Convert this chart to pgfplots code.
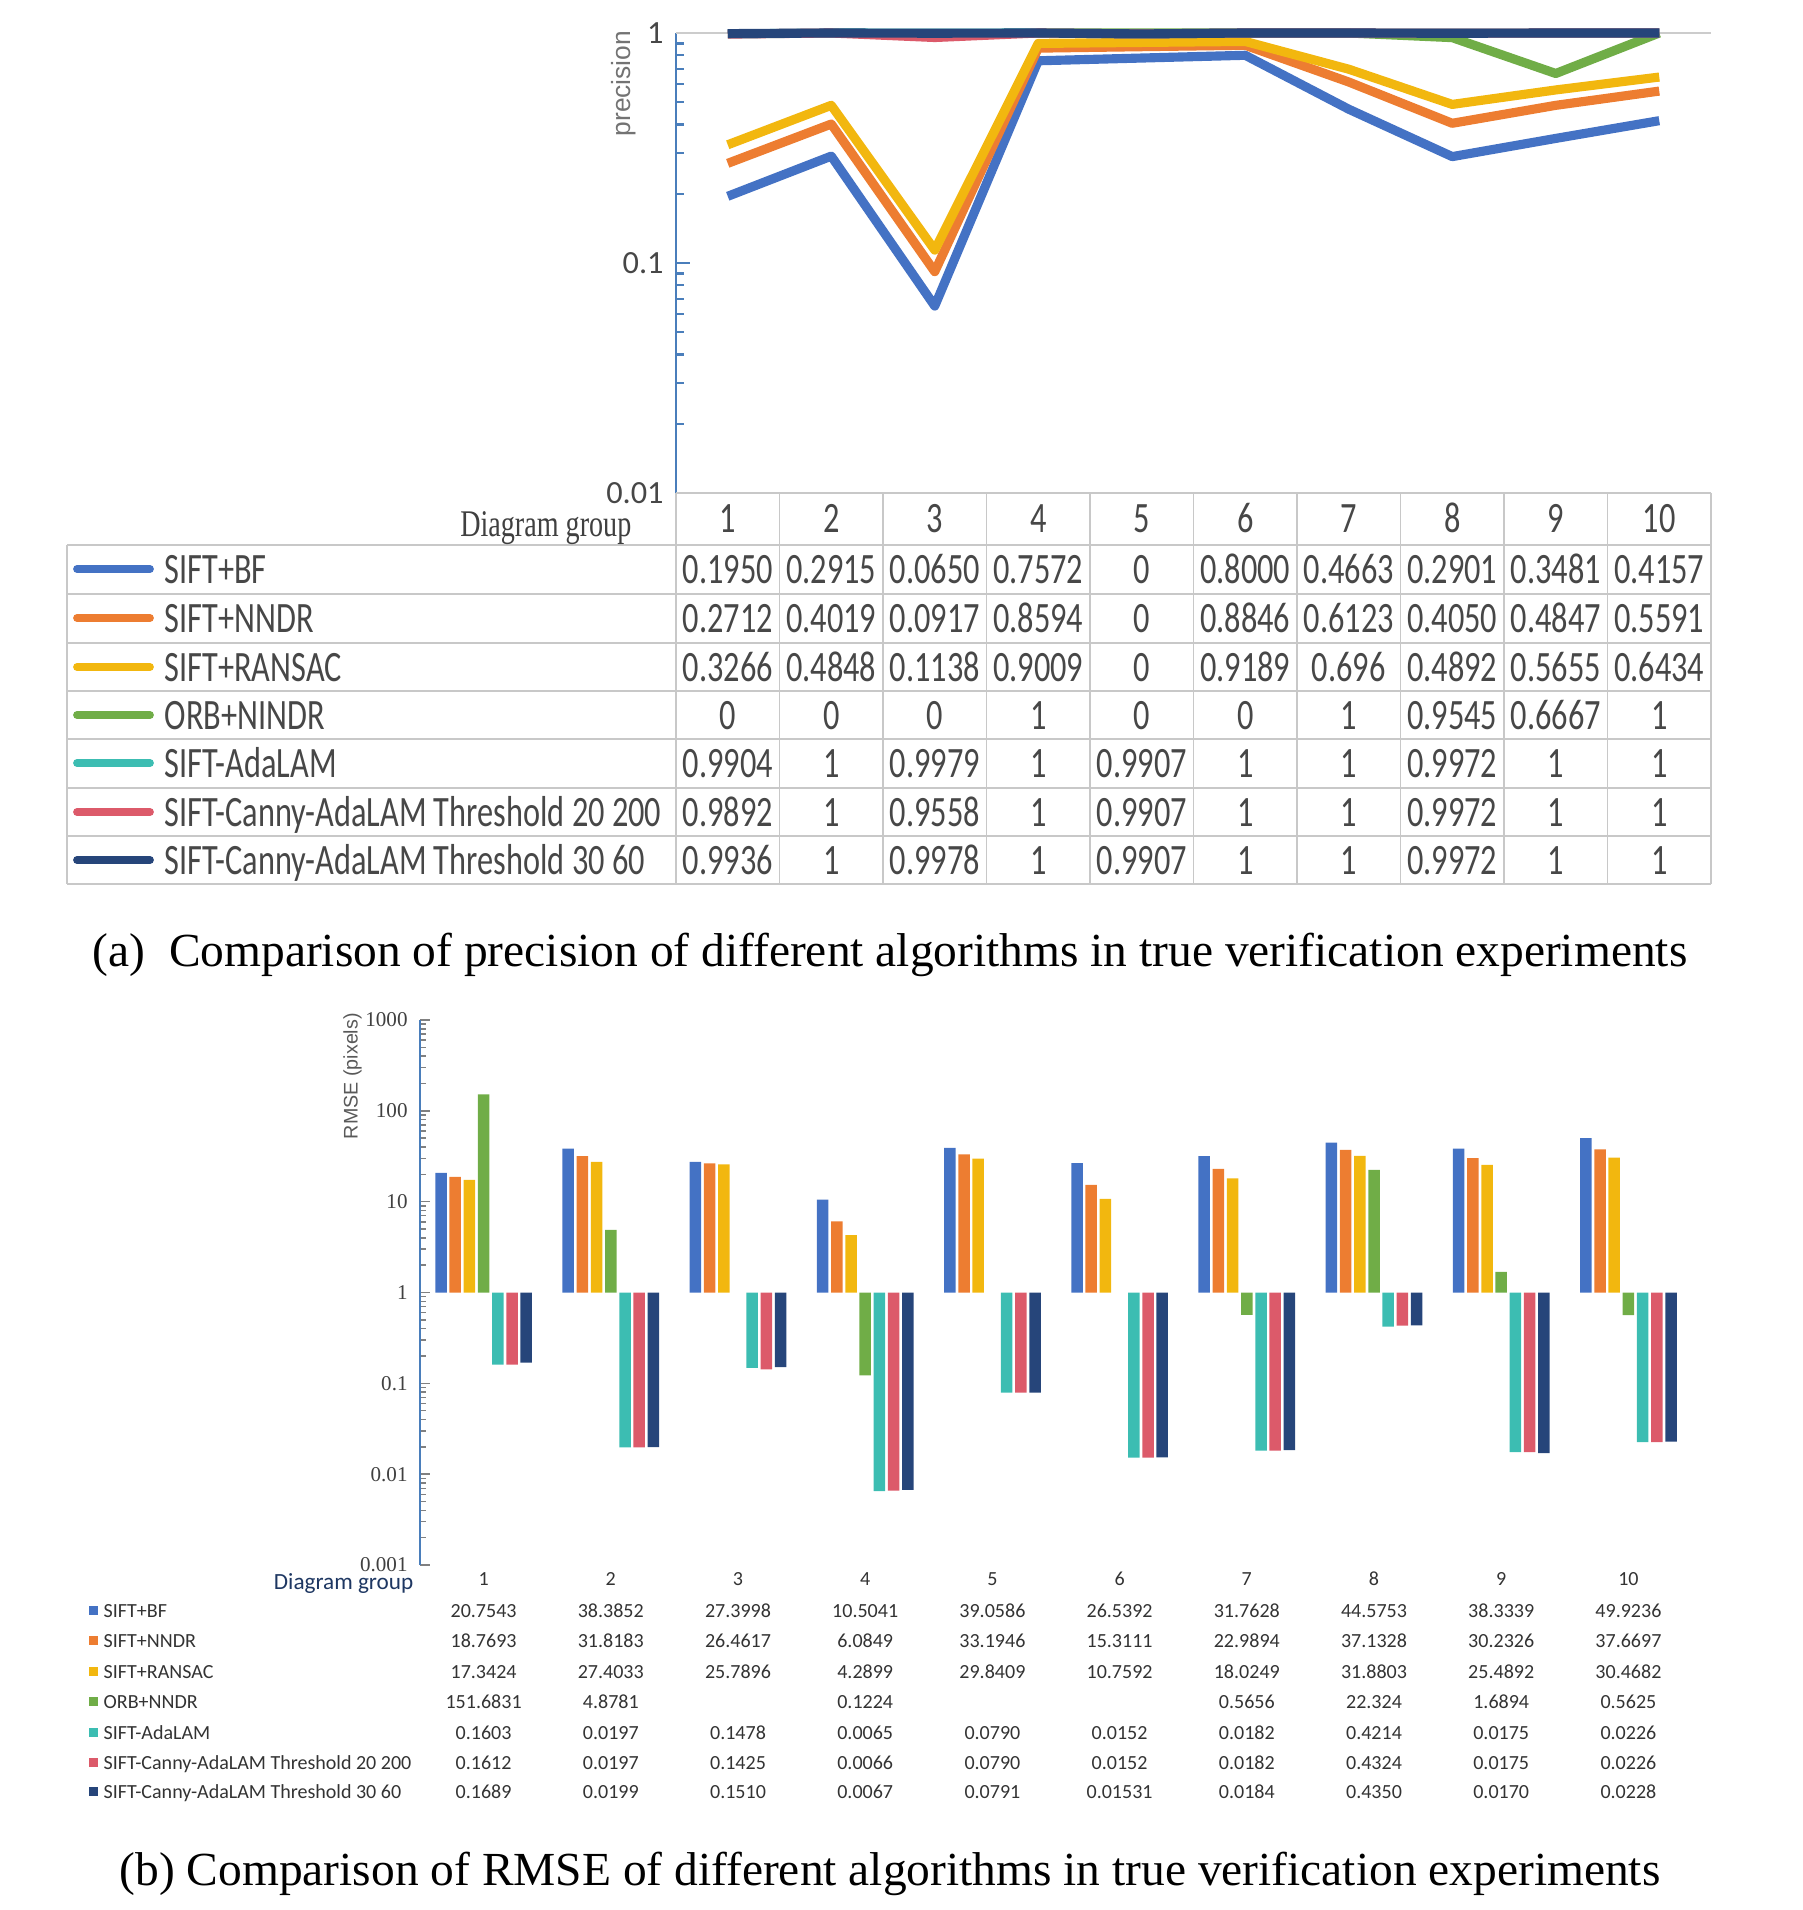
\documentclass[border=0pt]{standalone}
\usepackage{pgfplots}
\pgfplotsset{compat=1.18}
\usepackage{graphicx}
\usepackage{fontspec}
\setmainfont{Liberation Serif}
\setsansfont{Carlito}
\newfontfamily\arialf{Liberation Sans}

\definecolor{cBF}{HTML}{4472C4}
\definecolor{cNN}{HTML}{ED7D31}
\definecolor{cRA}{HTML}{F2B70F}
\definecolor{cORB}{HTML}{70AD47}
\definecolor{cAda}{HTML}{3CBDB2}
\definecolor{cC20}{HTML}{DC5A6A}
\definecolor{cC30}{HTML}{26457A}
\definecolor{axblue}{HTML}{4A7EBB}
\definecolor{gridc}{HTML}{C8C8C8}

\newcommand{\tall}[1]{\scalebox{1}[1.34]{#1}}
\newcommand{\tabA}{\sffamily\fontsize{9.2}{10}\selectfont\color{black!72}}
\newcommand{\tabB}{\sffamily\fontsize{5.7}{6}\selectfont\color{black!80}}

% one row of table (a): centre y, colour, label, ten values
\newcommand{\rowA}[4]{%
  \draw[#2, line width=2.2pt, line cap=round] (77,#1) -- (150,#1);
  \node[anchor=base west, inner sep=0pt, font=\tabA] at (164,#1+14) {\tall{#3}};
  \foreach \v [count=\c] in {#4} {
    \node[anchor=base, inner sep=0pt, font=\tabA] at ({676+(\c-0.5)*103.5},#1+14) {\tall{\v}};
  }
}
% one row of table (b)
\newcommand{\rowB}[4]{%
  \fill[#2] (89,#1-5) rectangle (98,#1+4);
  \node[anchor=base west, inner sep=0pt, font=\tabB] at (103,#1+6) {#3};
  \foreach \v [count=\c] in {#4} {
    \node[anchor=base, inner sep=0pt, font=\tabB] at ({420+(\c-0.5)*127.2},#1+6) {\v};
  }
}

\begin{document}
\begin{tikzpicture}
\begin{scope}[x=0.1mm,y=-0.1mm]
\useasboundingbox (0,0) rectangle (1802,1910);
\end{scope}

% ---------- (a) precision ----------
\begin{axis}[
  at={(67.6mm,-3.3mm)}, anchor=north west,
  scale only axis, width=103.5mm, height=46mm,
  xmin=0.5, xmax=10.5,
  ymode=log, ymin=0.01, ymax=1,
  axis x line=none, axis y line*=left,
  y axis line style={draw=axblue, line width=0.6pt, -},
  ytick={0.01,0.1,1}, yticklabels={0.01,0.1,1},
  minor ytick={0.02,0.03,0.04,0.05,0.06,0.07,0.08,0.09,0.2,0.3,0.4,0.5,0.6,0.7,0.8,0.9},
  ytick align=inside,
  major tick length=1.4mm, minor tick length=0.8mm,
  tick style={draw=axblue, line width=0.6pt},
  yticklabel style={font=\tabA},
  ylabel={precision},
  ylabel style={at={(axis description cs:-0.051,0.89)}, anchor=center,
    font=\arialf\fontsize{7.5}{8}\selectfont, text=black!55},
  clip=false, no markers,
  every axis plot/.append style={line width=2.6pt, line join=round},
]
\draw[gray!40, line width=0.6pt] (rel axis cs:0,1) -- (rel axis cs:1,1);
\addplot[cBF] coordinates {(1,0.1950)(2,0.2915)(3,0.0650)(4,0.7572)(6,0.8000)(7,0.4663)(8,0.2901)(9,0.3481)(10,0.4157)};
\addplot[cNN] coordinates {(1,0.2712)(2,0.4019)(3,0.0917)(4,0.8594)(6,0.8846)(7,0.6123)(8,0.4050)(9,0.4847)(10,0.5591)};
\addplot[cRA] coordinates {(1,0.3266)(2,0.4848)(3,0.1138)(4,0.9009)(6,0.9189)(7,0.696)(8,0.4892)(9,0.5655)(10,0.6434)};
\addplot[cORB] coordinates {(4,1)(7,1)(8,0.9545)(9,0.6667)(10,1)};
\addplot[cAda] coordinates {(1,0.9904)(2,1)(3,0.9979)(4,1)(5,0.9907)(6,1)(7,1)(8,0.9972)(9,1)(10,1)};
\addplot[cC20] coordinates {(1,0.9892)(2,1)(3,0.9558)(4,1)(5,0.9907)(6,1)(7,1)(8,0.9972)(9,1)(10,1)};
\addplot[cC30] coordinates {(1,0.9936)(2,1)(3,0.9978)(4,1)(5,0.9907)(6,1)(7,1)(8,0.9972)(9,1)(10,1)};
\end{axis}

% ---------- (b) RMSE ----------
\begin{axis}[
  at={(42mm,-102mm)}, anchor=north west,
  scale only axis, width=127.2mm, height=54.5mm,
  xmin=0.5, xmax=10.5,
  ymode=log, ymin=0.001, ymax=1000, log origin=0,
  ybar=0.27mm, bar width=1.15mm,
  axis x line=none, axis y line*=left,
  y axis line style={draw=axblue, line width=0.5pt, -},
  ytick={0.001,0.01,0.1,1,10,100,1000},
  yticklabels={0.001,0.01,0.1,1,10,100,1000},
  minor ytick={0.002,0.003,0.004,0.005,0.006,0.007,0.008,0.009,
    0.02,0.03,0.04,0.05,0.06,0.07,0.08,0.09,
    0.2,0.3,0.4,0.5,0.6,0.7,0.8,0.9,
    2,3,4,5,6,7,8,9,20,30,40,50,60,70,80,90,
    200,300,400,500,600,700,800,900},
  ytick align=inside,
  major tick length=1mm, minor tick length=0.6mm,
  tick style={draw=black!50, line width=0.4pt},
  yticklabel style={font=\rmfamily\fontsize{6}{6}\selectfont, text=black!75},
  ylabel={RMSE (pixels)},
  ylabel style={at={(axis description cs:-0.053,0.897)}, anchor=center,
    font=\arialf\fontsize{5.6}{6}\selectfont, text=black!65},
]
\addplot[fill=cBF, draw=none] coordinates {(1,20.7543)(2,38.3852)(3,27.3998)(4,10.5041)(5,39.0586)(6,26.5392)(7,31.7628)(8,44.5753)(9,38.3339)(10,49.9236)};
\addplot[fill=cNN, draw=none] coordinates {(1,18.7693)(2,31.8183)(3,26.4617)(4,6.0849)(5,33.1946)(6,15.3111)(7,22.9894)(8,37.1328)(9,30.2326)(10,37.6697)};
\addplot[fill=cRA, draw=none] coordinates {(1,17.3424)(2,27.4033)(3,25.7896)(4,4.2899)(5,29.8409)(6,10.7592)(7,18.0249)(8,31.8803)(9,25.4892)(10,30.4682)};
\addplot[fill=cORB, draw=none] coordinates {(1,151.6831)(2,4.8781)(4,0.1224)(7,0.5656)(8,22.324)(9,1.6894)(10,0.5625)};
\addplot[fill=cAda, draw=none] coordinates {(1,0.1603)(2,0.0197)(3,0.1478)(4,0.0065)(5,0.0790)(6,0.0152)(7,0.0182)(8,0.4214)(9,0.0175)(10,0.0226)};
\addplot[fill=cC20, draw=none] coordinates {(1,0.1612)(2,0.0197)(3,0.1425)(4,0.0066)(5,0.0790)(6,0.0152)(7,0.0182)(8,0.4324)(9,0.0175)(10,0.0226)};
\addplot[fill=cC30, draw=none] coordinates {(1,0.1689)(2,0.0199)(3,0.1510)(4,0.0067)(5,0.0791)(6,0.01531)(7,0.0184)(8,0.4350)(9,0.0170)(10,0.0228)};
\end{axis}

\begin{scope}[x=0.1mm,y=-0.1mm]
% ---- table (a) grid ----
\draw[gridc, line width=0.5pt] (676,493) -- (1711,493);
\foreach \yy in {545,594,643,691,739,788,836,884}
  \draw[gridc, line width=0.5pt] (67,\yy) -- (1711,\yy);
\draw[gridc, line width=0.5pt] (67,545) -- (67,884);
\foreach \k in {0,...,10}
  \draw[gridc, line width=0.5pt] ({676+\k*103.5},493) -- ({676+\k*103.5},884);
\node[anchor=base east, inner sep=0pt, font=\rmfamily\fontsize{8}{9}\selectfont\color{black!75}] at (632,537) {\tall{Diagram group}};
\foreach \c in {1,...,10}
  \node[anchor=base, inner sep=0pt, font=\tabA] at ({676+(\c-0.5)*103.5},533) {\tall{\c}};
\rowA{569}{cBF}{SIFT+BF}{0.1950,0.2915,0.0650,0.7572,0,0.8000,0.4663,0.2901,0.3481,0.4157}
\rowA{618}{cNN}{SIFT+NNDR}{0.2712,0.4019,0.0917,0.8594,0,0.8846,0.6123,0.4050,0.4847,0.5591}
\rowA{667}{cRA}{SIFT+RANSAC}{0.3266,0.4848,0.1138,0.9009,0,0.9189,0.696,0.4892,0.5655,0.6434}
\rowA{715}{cORB}{ORB+NINDR}{0,0,0,1,0,0,1,0.9545,0.6667,1}
\rowA{763}{cAda}{SIFT-AdaLAM}{0.9904,1,0.9979,1,0.9907,1,1,0.9972,1,1}
\rowA{812}{cC20}{SIFT-Canny-AdaLAM Threshold 20 200}{0.9892,1,0.9558,1,0.9907,1,1,0.9972,1,1}
\rowA{860}{cC30}{SIFT-Canny-AdaLAM Threshold 30 60}{0.9936,1,0.9978,1,0.9907,1,1,0.9972,1,1}
\node[anchor=base, font=\rmfamily\fontsize{13.5}{15}\selectfont] at (890,966)
  {(a)\ \ Comparison of precision of different algorithms in true verification experiments};

% ---- table (b) ----
\node[anchor=base east, inner sep=0pt, font=\sffamily\fontsize{6.6}{7}\selectfont\color{cC30!80!black}] at (414,1589) {Diagram group};
\foreach \c in {1,...,10}
  \node[anchor=base, inner sep=0pt, font=\tabB] at ({420+(\c-0.5)*127.2},1585) {\c};
\rowB{1611}{cBF}{SIFT+BF}{20.7543,38.3852,27.3998,10.5041,39.0586,26.5392,31.7628,44.5753,38.3339,49.9236}
\rowB{1641}{cNN}{SIFT+NNDR}{18.7693,31.8183,26.4617,6.0849,33.1946,15.3111,22.9894,37.1328,30.2326,37.6697}
\rowB{1672}{cRA}{SIFT+RANSAC}{17.3424,27.4033,25.7896,4.2899,29.8409,10.7592,18.0249,31.8803,25.4892,30.4682}
\rowB{1702}{cORB}{ORB+NNDR}{151.6831,4.8781,{},0.1224,{},{},0.5656,22.324,1.6894,0.5625}
\rowB{1733}{cAda}{SIFT-AdaLAM}{0.1603,0.0197,0.1478,0.0065,0.0790,0.0152,0.0182,0.4214,0.0175,0.0226}
\rowB{1763}{cC20}{SIFT-Canny-AdaLAM Threshold 20 200}{0.1612,0.0197,0.1425,0.0066,0.0790,0.0152,0.0182,0.4324,0.0175,0.0226}
\rowB{1792}{cC30}{SIFT-Canny-AdaLAM Threshold 30 60}{0.1689,0.0199,0.1510,0.0067,0.0791,0.01531,0.0184,0.4350,0.0170,0.0228}
\node[anchor=base, font=\rmfamily\fontsize{13.5}{15}\selectfont] at (890,1885)
  {(b) Comparison of RMSE of different algorithms in true verification experiments};
\end{scope}
\end{tikzpicture}
\end{document}
